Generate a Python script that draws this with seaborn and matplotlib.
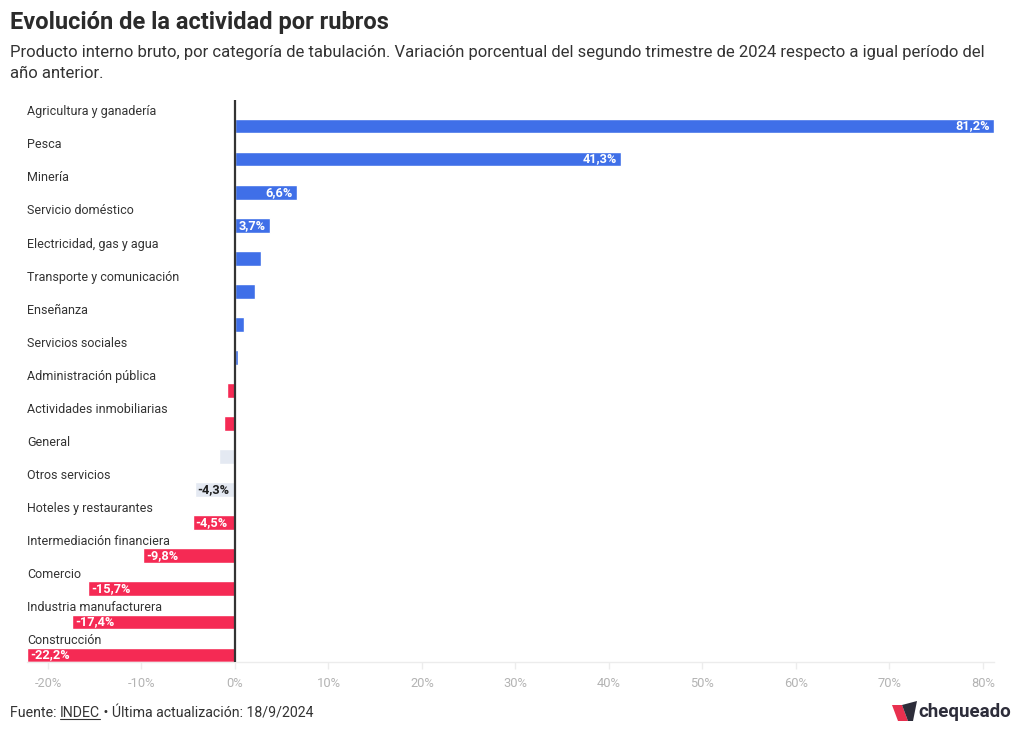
import matplotlib
matplotlib.use("Agg")
import matplotlib.pyplot as plt
import seaborn as sns
import pandas as pd
from matplotlib.patches import Polygon
from matplotlib.lines import Line2D

categories = ["Agricultura y ganadería", "Pesca", "Minería", "Servicio doméstico",
              "Electricidad, gas y agua", "Transporte y comunicación", "Enseñanza",
              "Servicios sociales", "Administración pública", "Actividades inmobiliarias",
              "General", "Otros servicios", "Hoteles y restaurantes",
              "Intermediación financiera", "Comercio", "Industria manufacturera",
              "Construcción"]
values = [81.2, 41.3, 6.6, 3.7, 2.8, 2.2, 1.0, 0.35, -0.8, -1.2, -1.7, -4.3, -4.5,
          -9.8, -15.7, -17.4, -22.2]
show_label = [True, True, True, True, False, False, False, False, False, False,
              False, True, True, True, True, True, True]
neutral = ["General", "Otros servicios"]
xticks = [-20, -10, 0, 10, 20, 30, 40, 50, 60, 70, 80]

BLUE = "#3f6fe8"
RED = "#f52a54"
GREY = "#e4e9f2"
colors = {c: (GREY if c in neutral else (BLUE if v >= 0 else RED))
          for c, v in zip(categories, values)}

df = pd.DataFrame({"rubro": categories, "valor": values})

sns.set_theme(style="white")
FONT = ["Roboto", "DejaVu Sans"]
plt.rcParams["font.family"] = FONT

fig = plt.figure(figsize=(10.2, 7.36), dpi=100)
ax = fig.add_axes([27.4 / 1020, 1 - 662 / 736, (994 - 27.4) / 1020, 562 / 736])

sns.barplot(data=df, x="valor", y="rubro", hue="rubro", palette=colors,
            legend=False, width=0.45, orient="h", ax=ax, saturation=1)

ax.set_xlim(-22.2, 81.2)
ax.set_ylim(16.21, -0.786)
ax.axvline(0, color="#333333", lw=1.6, zorder=5)

ax.set_yticks([])
ax.set_ylabel("")
ax.set_xlabel("")
ax.set_xticks(xticks)
ax.set_xticklabels([f"{t}%" for t in xticks], color="#b3b3b3", fontsize=9.3)
ax.tick_params(axis="x", length=5, color="#ececec", width=1, pad=6, bottom=True)
for s in ["top", "right", "left"]:
    ax.spines[s].set_visible(False)
ax.spines["bottom"].set_color("#ececec")
ax.spines["bottom"].set_linewidth(1)

for i, (c, v, sl) in enumerate(zip(categories, values, show_label)):
    ax.text(-22.2, i - 0.43, c, ha="left", va="center", fontsize=9.0,
            color="#333333", transform=ax.transData)
    if sl:
        txt = f"{v:.1f}".replace(".", ",") + "%"
        tcol = "#1f1f1f" if c in neutral else "white"
        if v >= 0:
            ax.text(v - 0.4, i, txt, ha="right", va="center", fontsize=9.2,
                    fontweight="bold", color=tcol, zorder=6)
        else:
            ax.text(v + 0.3, i, txt, ha="left", va="center", fontsize=9.2,
                    fontweight="bold", color=tcol, zorder=6)

fig.text(10 / 1020, 1 - 22 / 736, "Evolución de la actividad por rubros",
         fontsize=17, fontweight="bold", color="#2b2b2b", ha="left", va="center")
fig.text(10 / 1020, 1 - 52 / 736,
         "Producto interno bruto, por categoría de tabulación. Variación porcentual del segundo trimestre de 2024 respecto a igual período del",
         fontsize=11.95, color="#333333", ha="left", va="center")
fig.text(10 / 1020, 1 - 74 / 736, "año anterior.",
         fontsize=11.95, color="#333333", ha="left", va="center")

# footer with underlined INDEC
fig.canvas.draw()
r = fig.canvas.get_renderer()
yfoot = 1 - 713 / 736
FS = 10.2
t1 = fig.text(10 / 1020, yfoot, "Fuente: ", fontsize=FS, color="#333333", ha="left", va="center")
bb = t1.get_window_extent(r)
t2 = fig.text(bb.x1 / 1020, yfoot, "INDEC", fontsize=FS, color="#333333", ha="left", va="center")
bb2 = t2.get_window_extent(r)
fig.add_artist(Line2D([bb2.x0 / 1020, bb2.x1 / 1020], [(bb2.y0 + 1) / 736] * 2,
                      color="#333333", lw=0.8))
fig.text(bb2.x1 / 1020, yfoot, " • Última actualización: 18/9/2024", fontsize=FS,
         color="#333333", ha="left", va="center")

# logo
def P(pts, col):
    fig.add_artist(Polygon([(x / 1020, 1 - y / 736) for x, y in pts], closed=True,
                           transform=fig.transFigure, facecolor=col, edgecolor="none"))
P([(892, 705), (902, 705), (908, 721), (898, 721)], "#e8304f")
P([(902, 705), (917, 701), (913, 721), (908, 721)], "#2d2d3a")
fig.text(1011 / 1020, 1 - 712 / 736, "chequeado", fontsize=13.5, fontweight="bold",
         color="#2d2d3a", ha="right", va="center")

fig.savefig("out.png", dpi=100)
